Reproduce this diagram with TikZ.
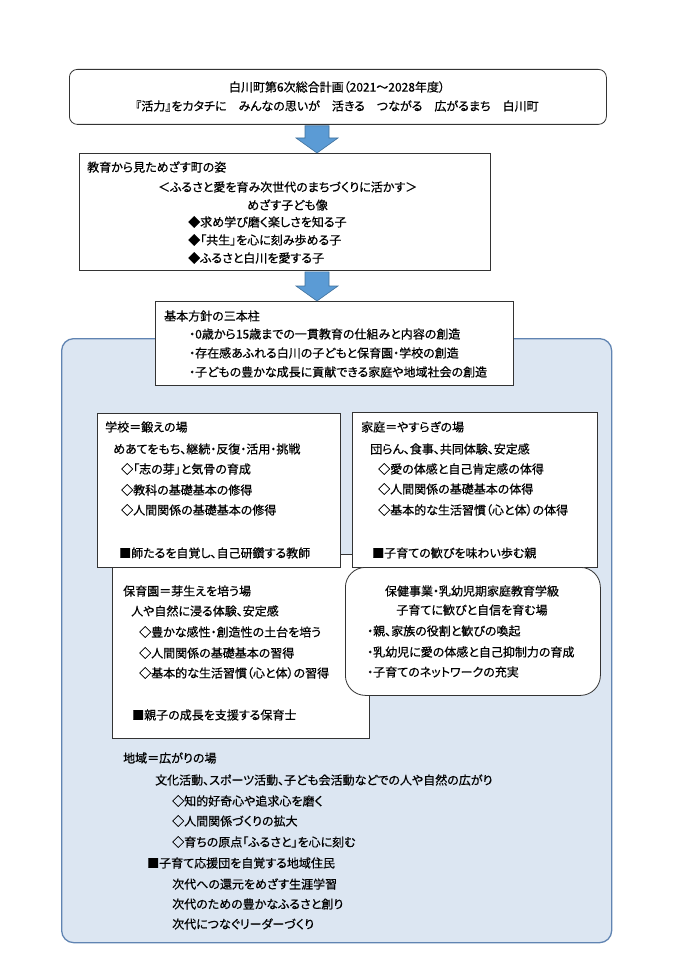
\documentclass[tikz,border=0pt]{standalone}
\usepackage{fontspec}
\newfontfamily\jp[RawFeature=+palt, FakeBold=0.6]{Noto Sans CJK JP}
\usetikzlibrary{positioning, calc}
\definecolor{areafill}{RGB}{220,230,242}
\definecolor{arealine}{RGB}{96,132,178}
\definecolor{arrowfill}{RGB}{91,155,213}
\definecolor{arrowline}{RGB}{65,113,156}
\tikzset{
    box/.style={draw=black!80, line width=0.8pt, fill=white, inner sep=0pt, anchor=north west},
    roundbox/.style={box, rounded corners=20pt},
    area/.style={box, draw=arealine, fill=areafill, line width=1.3pt, rounded corners=12pt},
    txt/.style={anchor=west, inner sep=0pt, font=\jp\fontsize{12}{14}\selectfont},
    ctxt/.style={txt, anchor=center},
    bluearrow/.style={fill=arrowfill, draw=arrowline, line width=0.6pt},
}

\begin{document}
\begin{tikzpicture}[x=1pt, y=-1pt]
\useasboundingbox (0,0) rectangle (690,976);

% plan
\node[box, rounded corners=8pt, minimum width=537pt, minimum height=55pt] (plan) at (69,69) {};
\node[ctxt] (plan1) at (337,87) {白川町第6次総合計画（2021～2028年度）};
\node[ctxt] (plan2) at (337,106) {『活力』をカタチに　みんなの思いが　活きる　つながる　広がるまち　白川町};

% vision
\node[box, minimum width=411pt, minimum height=117pt] (vision) at (79,153) {};
\node[txt] (vis1) at (87,167) {教育から見ためざす町の姿};
\node[txt] (vis2) at (158,187) {＜ふるさと愛を育み次世代のまちづくりに活かす＞};
\node[txt] (vis3) at (247,205) {めざす子ども像};
\node[txt] (vis4) at (188,222) {◆求め学び磨く楽しさを知る子};
\node[txt] (vis5) at (188,240) {◆「共生」を心に刻み歩める子};
\node[txt] (vis6) at (188,258) {◆ふるさと白川を愛する子};

% arrows
\coordinate (axis) at (317,0);
\path (plan.south -| axis) coordinate (a1s) (vision.north -| axis) coordinate (a1e);
\filldraw[bluearrow] ($(a1s)+(-12,1)$) -- ($(a1s)+(12,1)$) -- ($(a1e)+(12,-15)$) -- ($(a1e)+(21,-15)$)
    -- (a1e) -- ($(a1e)+(-21,-15)$) -- ($(a1e)+(-12,-15)$) -- cycle;

% area
\node[area, minimum width=550pt, minimum height=604pt] (area) at (61,338) {};

% pillars
\node[box, minimum width=358pt, minimum height=84pt] (pillars) at (155,301) {};
\node[txt] (pil1) at (164,316) {基本方針の三本柱};
\node[txt] (pil2) at (189,334) {・0歳から15歳までの一貫教育の仕組みと内容の創造};
\node[txt] (pil3) at (189,353) {・存在感あふれる白川の子どもと保育園・学校の創造};
\node[txt] (pil4) at (189,372) {・子どもの豊かな成長に貢献できる家庭や地域社会の創造};

\path (vision.south -| axis) coordinate (a2s) (pillars.north -| axis) coordinate (a2e);
\filldraw[bluearrow] ($(a2s)+(-12,1)$) -- ($(a2s)+(12,1)$) -- ($(a2e)+(12,-15)$) -- ($(a2e)+(21,-15)$)
    -- (a2e) -- ($(a2e)+(-21,-15)$) -- ($(a2e)+(-12,-15)$) -- cycle;

% nursery
\node[box, minimum width=257pt, minimum height=184pt] (nursery) at (112,554) {};
\node[txt] (nur1) at (123,591) {保育園＝芽生えを培う場};
\node[txt] (nur2) at (131,611) {人や自然に浸る体験、安定感};
\node[txt] (nur3) at (139,632) {◇豊かな感性・創造性の土台を培う};
\node[txt] (nur4) at (139,653) {◇人間関係の基礎基本の習得};
\node[txt] (nur5) at (139,673) {◇基本的な生活習慣（心と体）の習得};
\node[txt] (nur6) at (132,715) {■親子の成長を支援する保育士};

% school
\node[box, minimum width=243pt, minimum height=154pt] (school) at (97,413) {};
\node[txt] (sch1) at (105,427) {学校＝鍛えの場};
\node[txt] (sch2) at (113,449) {めあてをもち、継続・反復・活用・挑戦};
\node[txt] (sch3) at (121,469) {◇「志の芽」と気骨の育成};
\node[txt] (sch4) at (121,490) {◇教科の基礎基本の修得};
\node[txt] (sch5) at (121,510) {◇人間関係の基礎基本の修得};
\node[txt] (sch6) at (119,553) {■師たるを自覚し、自己研鑽する教師};

% home
\node[box, minimum width=245pt, minimum height=155pt] (home) at (352,412) {};
\node[txt] (hom1) at (361,427) {家庭＝やすらぎの場};
\node[txt] (hom2) at (370,449) {団らん、食事、共同体験、安定感};
\node[txt] (hom3) at (378,469) {◇愛の体感と自己肯定感の体得};
\node[txt] (hom4) at (378,489) {◇人間関係の基礎基本の体得};
\node[txt] (hom5) at (378,510) {◇基本的な生活習慣（心と体）の体得};
\node[txt] (hom6) at (372,553) {■子育ての歓びを味わい歩む親};

% health
\node[roundbox, minimum width=255pt, minimum height=128pt] (health) at (345,567) {};
\node[ctxt] (hea1) at (472,591) {保健事業・乳幼児期家庭教育学級};
\node[ctxt] (hea2) at (472,610) {子育てに歓びと自信を育む場};
\node[txt] (hea3) at (367,631) {・親、家族の役割と歓びの喚起};
\node[txt] (hea4) at (367,652) {・乳幼児に愛の体感と自己抑制力の育成};
\node[txt] (hea5) at (367,672) {・子育てのネットワークの充実};

% community
\node[txt] (com1) at (123,758) {地域＝広がりの場};
\node[txt] (com2) at (155,780) {文化活動、スポーツ活動、子ども会活動などでの人や自然の広がり};
\node[txt] (com3) at (172,801) {◇知的好奇心や追求心を磨く};
\node[txt] (com4) at (172,821) {◇人間関係づくりの拡大};
\node[txt] (com5) at (172,842) {◇育ちの原点「ふるさと」を心に刻む};
\node[txt] (com6) at (147,863) {■子育て応援団を自覚する地域住民};
\node[txt] (com7) at (172,884) {次代への還元をめざす生涯学習};
\node[txt] (com8) at (172,904) {次代のための豊かなふるさと創り};
\node[txt] (com9) at (172,924) {次代につなぐリーダーづくり};

\end{tikzpicture}
\end{document}
